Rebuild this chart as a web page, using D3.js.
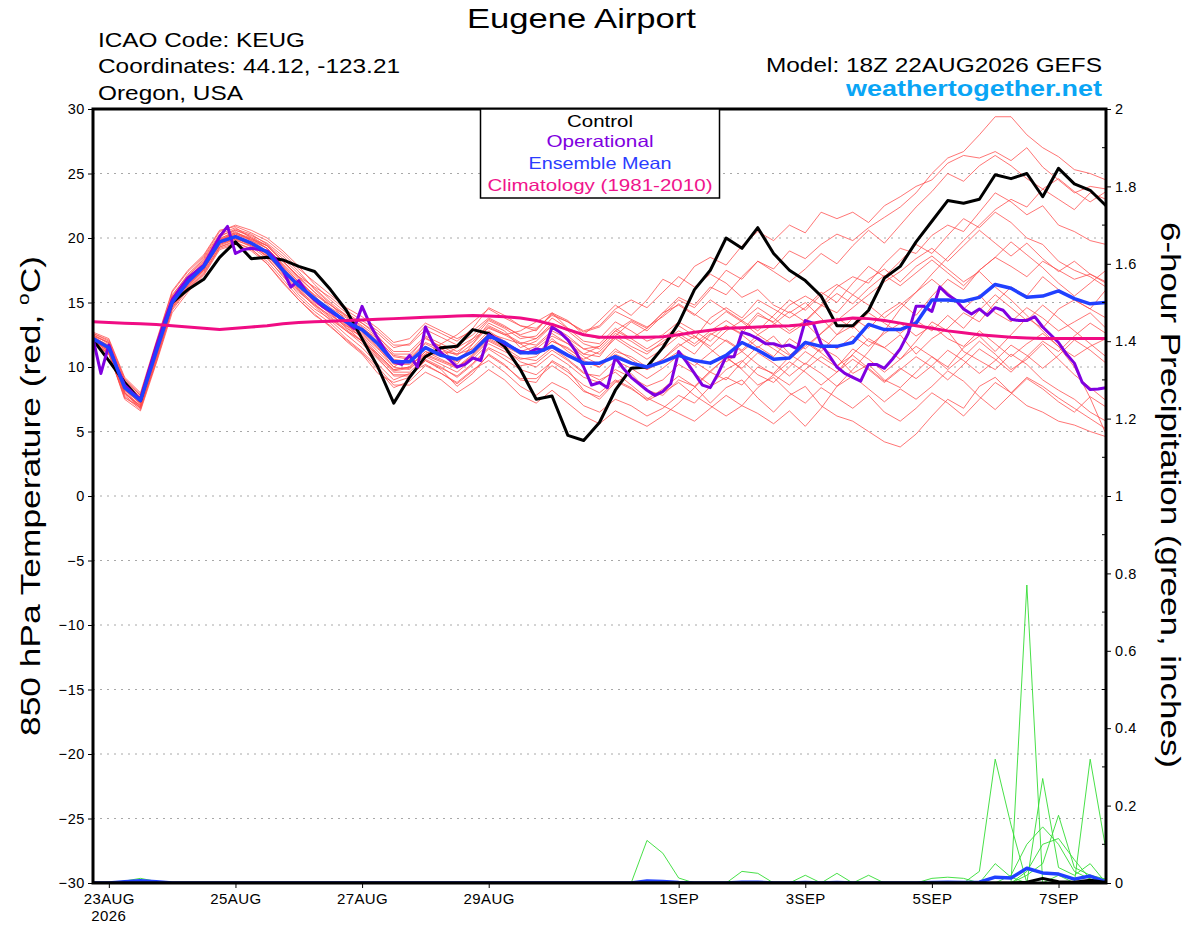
<!DOCTYPE html>
<html><head><meta charset="utf-8">
<script src="https://cdn.jsdelivr.net/npm/d3@7"></script>
<style>
body{margin:0;background:#fff;}
text{font-family:"Liberation Sans",Arial,Helvetica,sans-serif;}
</style>
</head><body>
<svg id="chart" width="1200" height="927"></svg>
<script>
// ---------------- DATA ----------------
const startTime = "2026-08-22T18:00:00Z";
const endTime   = "2026-09-07T18:00:00Z";
const ensStepHours = 6;
const opStepHours = 3;
const tempTicks = [-30,-25,-20,-15,-10,-5,0,5,10,15,20,25,30];
const tempGrid = [-25,-20,-15,-10,-5,0,5,10,15,20,25];
const precipTicks = [0,0.2,0.4,0.6,0.8,1,1.2,1.4,1.6,1.8,2];
const precipMinorTicks = [0.1,0.3,0.5,0.7,0.9,1.1,1.3,1.5,1.7,1.9];
const dateTicks = ["2026-08-23","2026-08-25","2026-08-27","2026-08-29","2026-09-01","2026-09-03","2026-09-05","2026-09-07"];
const dateTickLabels = ["23AUG","25AUG","27AUG","29AUG","1SEP","3SEP","5SEP","7SEP"];

const control = [12.1,10.5,8.8,7.4,11.5,15,16,16.8,18.5,19.7,18.4,18.5,18.3,17.8,17.4,16,14.4,12.2,10,7.2,
  9.2,10.8,11.5,11.6,12.9,12.6,11.6,9.8,7.5,7.75,4.7,4.3,5.7,8.2,9.9,10,11.5,13.4,16,17.5,
  20,19.2,20.8,18.8,17.5,16.7,15.5,13.2,13.2,14.4,16.9,17.8,19.7,21.3,22.9,22.7,23,24.9,24.6,25,
  23.2,25.4,24.2,23.7,22.5];

const ensembleMean = [12.2,11.5,8.4,7.4,11.2,15,16.6,17.8,19.7,20.1,19.6,18.9,17.5,16.3,15.3,14.4,13.5,12.9,11.8,10.4,
  10.4,11.5,10.9,10.6,11.2,12.4,11.9,11.1,11.1,11.6,10.9,10.3,10.3,10.8,10.3,10,10.4,10.9,10.5,10.3,
  10.9,11.9,11.3,10.6,10.7,11.9,11.6,11.6,11.9,13.3,12.9,12.9,13.4,15.2,15.2,15.1,15.4,16.4,16.1,15.4,
  15.5,15.9,15.3,14.9,15];

const climatology = [13.5,13.45,13.4,13.35,13.3,13.2,13.1,13.0,12.9,13.0,13.1,13.2,13.35,13.45,13.5,13.55,13.6,13.65,13.7,13.75,
  13.8,13.85,13.9,13.95,14.0,13.95,13.9,13.8,13.6,13.3,12.9,12.5,12.3,12.3,12.3,12.3,12.35,12.5,12.7,12.85,
  13.0,13.05,13.1,13.15,13.2,13.3,13.5,13.65,13.8,13.75,13.6,13.4,13.2,13.0,12.8,12.65,12.5,12.4,12.3,12.25,
  12.2,12.2,12.2,12.2,12.2];

const operational = [12.2,9.5,11.7,10.0,8.6,8.0,7.5,9.6,11.6,13.5,15.2,16.1,16.9,17.4,17.9,19.0,20.1,20.9,18.8,19.1,
  19.2,19.1,19.0,18.4,17.5,16.2,16.7,15.8,15.2,14.7,14.3,13.9,13.5,13.0,14.7,13.3,12.2,11.2,10.4,10.2,
  10.9,10.0,13.1,11.8,11.1,10.6,10.0,10.2,10.7,10.5,12.5,12.2,11.8,11.5,11.2,11.1,11.4,11.3,13.1,12.7,
  12.1,11.2,10.0,8.6,8.8,8.4,10.75,9.9,9.2,8.7,8.2,7.8,8.1,8.7,11.2,10.4,9.5,8.6,8.4,9.5,
  10.8,10.8,12.7,12.5,12.2,11.8,11.8,11.6,11.7,11.4,13.6,13.4,11.8,10.9,10.0,9.5,9.2,8.9,10.2,10.2,
  9.9,10.6,11.4,12.6,14.7,14.7,14.3,16.2,15.6,15.2,14.5,14.1,14.5,14.0,14.6,14.4,13.7,13.6,13.6,13.9,
  13.1,12.5,11.9,11.0,10.3,8.8,8.25,8.3,8.4];

const member01 = [12.5,11.8,8.0,7.0,11.8,15.5,17.2,18.5,20.3,20.8,20.0,19.2,18.0,16.8,15.5,14.2,13.0,12.4,11.2,10.0,
  10.8,12.3,11.5,10.2,11.8,13.4,12.8,11.5,12.0,13.2,12.1,11.0,10.8,12.4,13.5,12.8,14.0,
  15.2,14.6,16.0,17.5,16.8,18.2,17.6,19.0,18.4,19.5,20.3,19.8,20.8,21.6,22.4,23.5,
  25.0,26.2,26.7,28.0,29.4,29.4,28.0,27.0,26.3,25.3,25.0,24.5];
const member02 = [11.8,11.0,7.8,6.8,10.6,14.6,16.2,17.5,19.8,20.5,19.8,19.0,17.8,16.0,14.8,13.8,12.8,12.0,11.0,9.8,
  10.0,11.2,10.8,11.5,12.2,13.0,12.5,12.8,13.5,14.2,13.0,12.5,13.6,14.8,14.0,15.2,16.8,
  16.2,17.8,18.5,17.9,19.4,20.5,19.8,21.0,20.4,22.0,21.5,22.0,21.2,22.5,23.2,24.0,
  24.5,25.8,26.4,26.2,26.7,26.0,27.0,25.5,24.5,23.5,24.0,23.8];
const member03 = [12.0,11.2,8.2,7.2,10.8,14.8,16.0,17.2,19.2,19.6,19.2,18.0,16.5,15.2,14.0,13.2,12.0,11.0,9.5,8.8,
  9.2,10.5,9.8,8.5,9.5,11.0,10.2,9.0,8.8,10.5,9.8,8.2,7.5,8.8,9.5,8.2,7.8,
  9.0,8.5,7.2,8.4,9.0,7.6,6.5,7.8,8.5,7.0,6.2,5.8,5.0,4.2,3.8,4.8,
  6.2,7.5,6.8,8.5,9.2,8.0,7.0,6.5,5.8,5.5,5.0,4.6];
const member04 = [12.4,11.6,8.6,7.6,11.6,15.4,16.9,18.2,20.0,20.4,19.9,19.4,18.2,17.0,15.8,14.6,13.8,13.0,12.2,10.8,
  10.6,11.8,11.2,11.0,11.4,12.6,12.2,11.8,11.0,12.0,11.5,10.5,10.0,11.2,10.8,10.0,10.6,
  11.8,11.0,12.5,13.2,12.6,14.0,13.5,14.8,15.5,14.8,16.2,17.0,16.5,18.0,19.2,18.8,
  20.2,21.0,20.5,22.0,23.5,22.8,21.8,22.5,21.0,20.5,19.8,19.5];
const member05 = [12.0,11.4,8.0,6.8,11.0,15.0,16.4,17.6,19.5,20.0,19.5,18.5,17.0,15.8,14.8,14.0,13.2,12.6,11.5,10.0,
  9.8,11.0,10.5,10.0,10.8,12.0,11.4,10.4,10.0,11.0,10.2,9.2,8.8,9.8,9.2,8.5,9.0,
  10.2,9.5,8.6,9.8,10.5,9.4,8.8,10.0,11.2,10.4,9.6,11.0,12.2,11.5,10.6,12.0,
  13.5,12.8,11.2,10.5,9.8,11.0,10.2,9.0,8.2,7.5,6.5,5.8];
const member06 = [12.3,11.7,8.8,7.5,11.4,15.2,16.8,18.0,19.9,20.6,20.2,19.6,18.6,17.4,16.0,14.9,13.6,12.7,11.6,10.2,
  10.2,11.0,11.8,12.5,13.5,14.5,13.8,13.2,13.0,14.0,13.5,12.8,13.2,14.5,15.2,14.6,15.8,
  17.0,16.2,17.2,16.5,15.4,16.0,14.8,14.2,15.0,13.8,12.5,13.2,12.0,11.5,12.5,11.0,
  12.2,13.0,14.2,13.5,15.0,16.2,15.5,17.0,16.0,15.2,14.5,13.8];
const member07 = [12.1,11.3,8.3,7.1,11.2,14.9,16.5,17.7,19.6,20.0,19.4,18.8,17.2,15.9,14.7,13.6,12.5,11.5,10.2,9.0,
  9.5,10.2,9.5,8.8,9.8,10.5,9.6,8.5,7.8,8.8,8.2,7.0,6.5,7.5,7.0,6.2,6.8,
  7.8,7.2,8.5,9.2,8.6,10.0,9.5,10.8,12.0,11.2,12.5,13.8,13.0,14.2,15.0,14.0,
  15.5,16.8,16.0,17.5,18.5,17.8,17.0,18.2,17.5,16.8,17.2,16.5];
const member08 = [12.6,12.0,9.0,7.8,11.9,15.8,17.4,18.6,20.5,21.0,20.6,20.0,19.0,17.8,16.4,15.2,14.2,13.4,12.6,11.5,
  11.8,13.2,12.6,12.0,13.0,14.6,14.0,13.2,12.8,14.2,13.6,12.5,12.2,13.5,12.8,12.0,12.5,
  13.5,12.8,12.0,13.2,12.5,11.5,12.4,11.0,10.2,11.5,10.8,9.5,10.2,9.0,8.4,9.6,
  10.8,10.0,11.5,12.4,11.2,12.5,13.8,13.0,14.5,15.2,14.5,16.0];
const member09 = [11.9,11.1,7.6,6.9,10.4,14.4,16.0,17.3,19.3,19.8,19.4,18.6,17.4,16.2,15.4,14.4,13.4,12.2,10.8,9.6,
  9.6,10.8,10.2,9.6,10.6,11.8,11.2,10.6,10.8,12.0,11.4,10.6,11.2,12.4,11.6,11.0,12.0,
  12.8,12.2,13.8,14.6,13.8,15.2,14.5,13.8,14.6,15.8,15.0,16.5,17.8,17.0,18.2,19.5,
  18.8,20.2,21.5,20.8,22.0,21.2,20.0,19.5,18.2,17.5,17.0,16.2];
const member10 = [12.2,11.5,8.5,7.3,11.3,15.1,16.7,17.9,19.8,20.2,19.7,18.8,17.6,16.4,15.0,14.2,13.5,12.8,11.8,10.6,
  10.4,11.5,11.0,10.6,11.5,12.8,12.0,11.2,11.6,12.6,11.8,10.8,10.2,11.4,10.6,9.8,10.4,
  11.2,10.4,9.6,10.8,9.8,8.6,9.2,8.0,7.2,8.4,7.6,6.8,7.8,6.5,5.8,6.8,
  8.0,7.2,6.2,7.5,8.8,8.0,9.2,8.5,7.6,6.8,6.0,5.2];
const member11 = [12.4,11.9,8.7,7.7,11.5,15.3,16.9,18.1,19.8,20.3,19.9,19.2,17.9,16.6,15.5,14.4,13.2,12.3,11.0,9.8,
  10.0,11.2,10.6,10.0,11.0,12.2,11.6,11.0,11.4,12.4,11.8,11.0,11.6,12.8,12.2,13.0,14.2,
  14.8,14.0,15.2,14.4,13.6,14.6,13.8,12.8,13.6,14.8,14.2,15.6,14.8,13.8,14.8,15.8,
  16.8,15.8,14.5,15.6,14.2,13.5,14.6,13.8,12.8,13.5,14.2,13.0];
const member12 = [12.0,11.2,7.9,7.0,10.9,14.7,16.3,17.5,19.5,19.9,19.3,18.4,17.1,15.6,14.5,13.7,12.8,11.8,10.6,9.4,
  9.4,10.6,10.0,9.2,10.2,11.4,10.6,9.8,9.4,10.4,9.6,8.6,8.0,9.0,8.4,7.4,8.0,
  8.8,7.8,7.0,6.2,7.0,6.4,5.6,6.6,5.4,6.8,8.5,9.8,11.2,12.8,14.5,15.8,
  17.2,18.5,19.8,21.0,22.2,23.0,22.4,23.8,23.0,22.2,23.5,23.0];
const member13 = [12.7,12.2,9.2,8.0,12.0,15.9,17.5,18.7,20.6,20.9,20.4,19.8,18.8,17.6,16.6,15.6,14.6,13.9,13.0,11.9,
  12.2,13.4,12.8,12.2,12.8,13.8,13.2,12.4,12.2,13.4,12.8,11.8,11.4,12.6,12.0,11.2,11.8,
  12.6,11.8,12.8,13.6,12.8,14.2,13.4,12.6,13.4,12.2,11.4,12.4,11.6,12.6,13.4,12.4,
  13.2,12.2,11.6,12.8,11.8,10.8,11.8,12.6,11.6,10.8,11.6,12.2];
const member14 = [12.1,11.4,8.1,7.0,11.0,14.9,16.4,17.6,19.4,19.9,19.6,18.7,17.5,16.1,15.1,14.1,13.1,12.0,10.9,9.7,
  9.9,10.9,10.4,9.9,10.9,12.1,11.5,10.7,10.5,11.5,10.6,9.6,9.0,9.6,8.6,7.6,7.0,
  6.4,5.8,6.8,7.8,7.0,8.4,9.4,8.6,9.8,10.8,10.0,11.4,10.6,9.6,10.6,11.6,
  10.8,9.8,10.8,12.0,11.0,9.8,10.6,11.8,10.6,9.4,8.4,7.4];
const member15 = [12.5,11.9,8.9,7.8,11.7,15.6,17.1,18.3,20.1,20.7,20.3,19.5,18.4,17.2,16.1,15.0,14.0,13.2,12.3,11.2,
  11.2,12.4,11.8,11.2,12.0,13.2,12.6,11.9,11.7,12.8,12.2,11.4,11.6,12.8,13.6,13.0,14.2,
  15.4,14.8,16.2,15.6,17.0,18.2,17.4,16.6,17.6,18.8,18.0,19.4,20.6,19.6,21.0,22.4,
  23.6,25.0,24.4,25.6,26.4,25.6,24.6,23.8,24.6,23.6,22.8,23.6];
const member16 = [11.9,11.0,7.7,6.7,10.5,14.5,16.1,17.4,19.3,19.7,19.1,18.2,16.8,15.4,14.3,13.4,12.2,11.2,10.0,8.6,
  8.6,9.6,9.0,8.0,8.8,9.8,9.0,7.8,7.2,8.2,7.2,6.2,5.6,6.6,6.0,5.4,6.2,
  7.2,8.4,9.6,9.0,10.4,11.6,10.8,12.2,11.4,12.6,13.8,13.0,14.2,13.4,12.6,13.6,
  12.8,14.0,13.0,14.4,15.6,14.6,13.6,14.8,13.8,12.8,11.8,10.8];
const member17 = [12.3,11.6,8.4,7.4,11.1,15.0,16.6,17.8,19.7,20.1,19.5,18.9,17.7,16.5,15.3,14.3,13.3,12.5,11.4,10.3,
  10.3,11.6,11.0,10.4,11.2,12.4,11.8,11.2,11.0,12.2,11.2,10.4,10.0,11.0,10.4,9.8,10.6,
  11.6,12.4,11.6,12.8,13.6,12.8,14.0,15.2,14.4,15.6,16.4,15.6,16.8,17.6,16.6,17.8,
  18.6,17.6,16.6,17.4,16.2,15.2,14.0,12.8,11.6,10.0,7.6,4.8];
const member18 = [12.2,11.3,8.2,7.2,11.4,15.2,16.8,18.0,19.9,20.3,19.8,19.2,17.8,16.6,15.6,14.8,14.0,13.4,12.4,11.0,
  11.0,12.2,11.6,11.0,12.2,13.6,13.0,12.2,12.4,13.8,13.0,12.0,11.8,13.0,12.2,11.4,12.2,
  13.2,12.4,11.4,10.4,11.2,10.2,9.4,10.4,9.6,8.6,9.6,10.6,9.8,8.8,9.8,10.8,
  10.0,9.0,10.2,11.4,10.6,9.6,10.8,12.0,11.2,12.4,13.4,12.6];
const member19 = [12.3,11.5,8.6,7.6,11.0,14.8,16.6,17.9,19.8,20.4,20.0,19.4,18.2,16.9,15.8,14.8,13.9,13.1,12.0,10.9,
  10.7,11.9,11.4,10.9,11.8,13.1,12.5,11.8,12.2,13.2,12.4,11.4,11.0,12.2,11.4,10.6,11.4,
  12.4,11.6,12.6,12.0,11.2,12.2,11.4,10.6,11.6,12.6,13.6,14.6,15.6,16.6,17.4,18.4,
  19.2,18.2,19.4,20.6,19.6,18.6,19.6,18.4,17.4,18.2,17.2,16.6];
const member20 = [12.0,11.3,8.0,6.9,10.7,14.6,16.3,17.6,19.6,20.0,19.5,18.6,17.3,16.0,14.9,13.9,12.9,12.0,10.7,9.3,
  9.3,10.5,9.9,9.3,10.3,11.5,10.9,10.1,10.3,11.3,10.5,9.5,9.3,10.5,9.9,9.1,9.9,
  10.9,10.1,11.1,12.1,11.3,12.5,11.7,10.9,11.9,11.1,10.1,10.9,9.9,8.9,9.9,9.1,
  10.1,11.3,10.5,9.5,10.5,11.7,10.9,9.9,10.9,12.1,11.3,10.3];
const member21 = [12.6,12.1,9.1,7.9,11.6,15.4,17.0,18.4,20.2,20.6,20.1,19.4,18.2,17.0,16.2,15.4,14.4,13.6,12.8,11.7,
  11.7,12.9,12.3,11.7,12.5,13.7,13.1,12.5,12.9,14.1,13.5,12.7,13.1,14.3,13.7,13.1,13.9,
  14.9,14.1,13.3,14.3,13.5,12.5,13.3,14.3,13.5,14.7,15.7,14.9,16.1,17.1,16.3,17.3,
  18.3,17.3,16.3,17.5,18.5,19.7,18.7,17.7,16.5,15.5,16.5,17.5];
const member22 = [11.8,11.1,7.5,6.6,10.3,14.2,15.8,17.1,19.1,19.5,19.0,18.0,16.6,15.2,14.1,13.1,12.1,11.1,9.8,8.4,
  8.9,10.1,9.5,8.7,9.7,10.9,10.1,9.1,9.1,10.1,9.3,8.1,7.7,8.9,8.3,7.5,8.3,
  9.3,8.5,9.7,10.7,9.9,11.1,10.3,9.3,10.3,9.5,8.5,9.3,8.3,7.3,8.3,7.5,
  8.5,9.7,8.9,7.7,6.7,7.9,9.1,8.3,7.3,6.5,7.7,6.9];
const members = [member01,member02,member03,member04,member05,member06,member07,member08,member09,member10,member11,
  member12,member13,member14,member15,member16,member17,member18,member19,member20,member21,member22];

// 6-hour precipitation (inches)
const precipMean = [0,0,0.003,0.006,0.003, 0,0,0,0,0, 0,0,0,0,0, 0,0,0,0,0, 0,0,0,0,0, 0,0,0,0,0, 0,0,0,0,0,
  0.005,0.004,0.001,0,0, 0,0.002,0.002,0,0, 0.001,0,0.001,0,0, 0,0,0,0.001,0.002,
  0.001,0.002,0.015,0.013,0.038, 0.026,0.023,0.01,0.018,0.003];
const precipControl = [0,0,0,0,0, 0,0,0,0,0, 0,0,0,0,0, 0,0,0,0,0, 0,0,0,0,0, 0,0,0,0,0, 0,0,0,0,0,
  0,0,0,0,0, 0,0,0,0,0, 0,0,0,0,0, 0,0,0,0,0, 0,0,0,0,0.002, 0.012,0.003,0.002,0.007,0.001];
const precipMember01 = [0,0,0.005,0.012,0.004, 0,0,0,0,0, 0,0,0,0,0, 0,0,0,0,0, 0,0,0,0,0, 0,0,0,0,0, 0,0,0,0,0,
  0,0,0,0,0, 0,0,0,0,0, 0,0,0,0,0, 0,0,0,0,0, 0,0,0,0.02,0.1, 0.145,0.1,0.03,0.01,0];
const precipMember02 = [0,0,0,0,0, 0,0,0,0,0, 0,0,0,0,0, 0,0,0,0,0, 0,0,0,0,0, 0,0,0,0,0, 0,0,0,0,0,
  0.11,0.077,0.013,0,0, 0,0,0,0,0, 0,0,0,0,0, 0,0,0,0,0, 0,0,0,0,0, 0,0,0,0,0];
const precipMember03 = [0,0,0,0,0, 0,0,0,0,0, 0,0,0,0,0, 0,0,0,0,0, 0,0,0,0,0, 0,0,0,0,0, 0,0,0,0,0,
  0,0,0,0,0, 0,0.03,0.025,0,0, 0.02,0,0.025,0,0.02, 0,0,0,0,0, 0,0,0,0,0, 0,0,0,0,0];
const precipMember04 = [0,0,0,0,0, 0,0,0,0,0, 0,0,0,0,0, 0,0,0,0,0, 0,0,0,0,0, 0,0,0,0,0, 0,0,0,0,0,
  0,0,0,0,0, 0,0,0,0,0, 0,0,0,0,0, 0,0,0,0.012,0.015, 0.012,0,0.05,0.015,0, 0,0,0,0,0];
const precipMember05 = [0,0,0,0,0, 0,0,0,0,0, 0,0,0,0,0, 0,0,0,0,0, 0,0,0,0,0, 0,0,0,0,0, 0,0,0,0,0,
  0,0,0,0,0, 0,0,0,0,0, 0,0,0,0,0, 0,0,0,0,0, 0,0.03,0.32,0.15,0, 0.01,0,0,0,0];
const precipMember06 = [0,0,0,0,0, 0,0,0,0,0, 0,0,0,0,0, 0,0,0,0,0, 0,0,0,0,0, 0,0,0,0,0, 0,0,0,0,0,
  0,0,0,0,0, 0,0,0,0,0, 0,0,0,0,0, 0,0,0,0,0, 0,0,0,0,0.77, 0,0.02,0,0,0];
const precipMember07 = [0,0,0,0,0, 0,0,0,0,0, 0,0,0,0,0, 0,0,0,0,0, 0,0,0,0,0, 0,0,0,0,0, 0,0,0,0,0,
  0,0,0,0,0, 0,0,0,0,0, 0,0,0,0,0, 0,0,0,0,0, 0,0,0,0,0, 0.27,0.04,0.02,0.05,0];
const precipMember08 = [0,0,0,0,0, 0,0,0,0,0, 0,0,0,0,0, 0,0,0,0,0, 0,0,0,0,0, 0,0,0,0,0, 0,0,0,0,0,
  0,0,0,0,0, 0,0,0,0,0, 0,0,0,0,0, 0,0,0,0,0, 0,0,0,0,0.02, 0.05,0.175,0.04,0.02,0.01];
const precipMember09 = [0,0,0,0,0, 0,0,0,0,0, 0,0,0,0,0, 0,0,0,0,0, 0,0,0,0,0, 0,0,0,0,0, 0,0,0,0,0,
  0,0,0,0,0, 0,0,0,0,0, 0,0,0,0,0, 0,0,0,0,0, 0,0,0,0,0, 0,0,0,0.32,0.085];
const precipMember10 = [0,0,0,0,0, 0,0,0,0,0, 0,0,0,0,0, 0,0,0,0,0, 0,0,0,0,0, 0,0,0,0,0, 0,0,0,0,0,
  0,0,0,0,0, 0,0,0,0,0, 0,0,0,0,0, 0,0,0,0,0, 0,0,0,0,0.03, 0.1,0.115,0.06,0.01,0];
const precipMembers = [precipMember01,precipMember02,precipMember03,precipMember04,precipMember05,
  precipMember06,precipMember07,precipMember08,precipMember09,precipMember10];

// ---------------- CHART ----------------
const svg = d3.select("#chart");
const L = 93, R = 1106, T = 109, B = 883;
const t0 = new Date(startTime);
const x = d3.scaleUtc().domain([t0, new Date(endTime)]).range([L, R]);
const yT = d3.scaleLinear().domain([-30, 30]).range([B, T]);
const yP = d3.scaleLinear().domain([0, 2]).range([B, T]);
const timeAt = (i, h) => new Date(+t0 + i * h * 3600e3);

svg.append("rect").attr("width",1200).attr("height",927).attr("fill","#fff");
svg.append("defs").append("clipPath").attr("id","plotclip")
  .append("rect").attr("x",L).attr("y",T).attr("width",R-L).attr("height",B-T);

// grid
svg.append("g").selectAll("line").data(tempGrid).join("line")
  .attr("x1",L).attr("x2",R).attr("y1",d=>yT(d)).attr("y2",d=>yT(d))
  .attr("stroke","#a8a8a8").attr("stroke-width",1).attr("stroke-dasharray","2,5");

const plot = svg.append("g").attr("clip-path","url(#plotclip)");
const line6T = d3.line().x((d,i)=>x(timeAt(i,ensStepHours))).y(d=>yT(d));
const line3T = d3.line().x((d,i)=>x(timeAt(i,opStepHours))).y(d=>yT(d));
const line6P = d3.line().x((d,i)=>x(timeAt(i,ensStepHours))).y(d=>yP(d));

plot.append("g").selectAll("path").data(members).join("path")
  .attr("d", line6T).attr("fill","none").attr("stroke","#ff4a4a").attr("stroke-opacity",0.85).attr("stroke-width",0.9);
plot.append("g").selectAll("path").data(precipMembers).join("path")
  .attr("d", line6P).attr("fill","none").attr("stroke","#33dd33").attr("stroke-width",0.9);

plot.append("path").datum(control).attr("d",line6T).attr("fill","none").attr("stroke","#000").attr("stroke-width",3).attr("stroke-linejoin","round");
plot.append("path").datum(operational).attr("d",line3T).attr("fill","none").attr("stroke","#8000e0").attr("stroke-width",3).attr("stroke-linejoin","round");
plot.append("path").datum(ensembleMean).attr("d",line6T).attr("fill","none").attr("stroke","#2040ff").attr("stroke-width",3.5).attr("stroke-linejoin","round");
plot.append("path").datum(climatology).attr("d",line6T).attr("fill","none").attr("stroke","#f00c84").attr("stroke-width",3).attr("stroke-linejoin","round");
plot.append("path").datum(precipMean).attr("d",line6P).attr("fill","none").attr("stroke","#2040ff").attr("stroke-width",3.5).attr("stroke-linejoin","round");
plot.append("path").datum(precipControl).attr("d",line6P).attr("fill","none").attr("stroke","#000").attr("stroke-width",3).attr("stroke-linejoin","round");

// axes
const tickFont = g => g.selectAll("text").attr("font-size",14.5).attr("letter-spacing",0.6).attr("fill","#000")
  .attr("font-family","'Liberation Sans',Arial,sans-serif");
const gl = svg.append("g").attr("transform",`translate(${L},0)`)
  .call(d3.axisLeft(yT).tickValues(tempTicks).tickSize(5).tickPadding(3).tickFormat(d3.format("d")));
gl.select(".domain").remove(); gl.call(tickFont); gl.selectAll("line").attr("stroke","#000");
const gr = svg.append("g").attr("transform",`translate(${R},0)`)
  .call(d3.axisRight(yP).tickValues(precipTicks).tickSize(5).tickPadding(4).tickFormat(d3.format("~g")));
gr.select(".domain").remove(); gr.call(tickFont); gr.selectAll("line").attr("stroke","#000");
svg.append("g").selectAll("line").data(precipMinorTicks).join("line")
  .attr("x1",R-4).attr("x2",R).attr("y1",d=>yP(d)).attr("y2",d=>yP(d)).attr("stroke","#000").attr("stroke-width",1);
const gb = svg.append("g").attr("transform",`translate(0,${B})`)
  .call(d3.axisBottom(x).tickValues(dateTicks.map(d=>new Date(d+"T00:00:00Z"))).tickSize(5).tickPadding(5)
    .tickFormat((d,i)=>dateTickLabels[i]));
gb.select(".domain").remove(); gb.call(tickFont); gb.selectAll("line").attr("stroke","#000");
gb.selectAll("text").attr("letter-spacing",0.4).attr("font-size",15);
svg.append("text").attr("x",x(new Date(dateTicks[0]+"T00:00:00Z"))).attr("y",921).attr("text-anchor","middle")
  .attr("font-size",15).attr("letter-spacing",0.4).text("2026");

// frame
svg.append("rect").attr("x",L).attr("y",T).attr("width",R-L).attr("height",B-T)
  .attr("fill","none").attr("stroke","#000").attr("stroke-width",3);

// legend
const lg = svg.append("g");
lg.append("rect").attr("x",480.5).attr("y",T).attr("width",239).attr("height",89)
  .attr("fill","#fff").attr("stroke","#000").attr("stroke-width",1.5);
const legendItems = [
  {t:"Control", c:"#000", y:126.5, w:66},
  {t:"Operational", c:"#8000e0", y:146.5, w:107},
  {t:"Ensemble Mean", c:"#2b3cff", y:169, w:143},
  {t:"Climatology (1981-2010)", c:"#f0148c", y:190.5, w:225}];
lg.selectAll("text").data(legendItems).join("text")
  .attr("x",600).attr("y",d=>d.y).attr("text-anchor","middle").attr("font-size",16.5)
  .attr("fill",d=>d.c).attr("textLength",d=>d.w).attr("lengthAdjust","spacingAndGlyphs").text(d=>d.t);

// header texts
const hdr = [
  {t:"Eugene Airport", x:467, y:28, s:28, w:229, a:"start", c:"#000", b:"normal"},
  {t:"ICAO Code: KEUG", x:98, y:47, s:21, w:207, a:"start", c:"#000", b:"normal"},
  {t:"Coordinates: 44.12, -123.21", x:98, y:73, s:21, w:302, a:"start", c:"#000", b:"normal"},
  {t:"Oregon, USA", x:98, y:100, s:21, w:145, a:"start", c:"#000", b:"normal"},
  {t:"Model: 18Z 22AUG2026 GEFS", x:766, y:72, s:21, w:336, a:"start", c:"#000", b:"normal"},
  {t:"weathertogether.net", x:846, y:96, s:22, w:256, a:"start", c:"#0aa5f5", b:"bold"}];
svg.append("g").selectAll("text").data(hdr).join("text")
  .attr("x",d=>d.x).attr("y",d=>d.y).attr("font-size",d=>d.s).attr("fill",d=>d.c).attr("font-weight",d=>d.b)
  .attr("textLength",d=>d.w).attr("lengthAdjust","spacingAndGlyphs").text(d=>d.t);

// axis titles
const lt = svg.append("text").attr("transform","translate(40,496) rotate(-90)").attr("text-anchor","middle")
  .attr("font-size",27).attr("textLength",480).attr("lengthAdjust","spacingAndGlyphs");
lt.append("tspan").text("850 hPa Temperature (red, ");
lt.append("tspan").attr("font-size",16).attr("dy",-11).text("o");
lt.append("tspan").attr("dy",11).text("C)");
svg.append("text").attr("transform","translate(1161,495) rotate(90)").attr("text-anchor","middle")
  .attr("font-size",27).attr("textLength",546).attr("lengthAdjust","spacingAndGlyphs")
  .text("6-hour Precipitation (green, inches)");
</script>
</body></html>
